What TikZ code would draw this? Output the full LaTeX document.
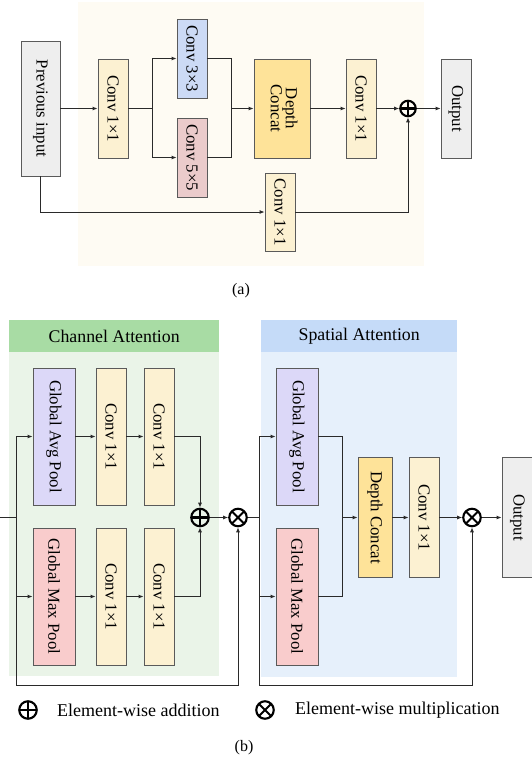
\documentclass[tikz,border=0pt]{standalone}
\usepackage{fontspec}
\setmainfont{Liberation Serif}
\usetikzlibrary{arrows.meta}

\definecolor{panelA}{HTML}{FEFBF3}
\definecolor{greyfill}{HTML}{EEEEEE}
\definecolor{convfill}{HTML}{FCF1D2}
\definecolor{bluefill}{HTML}{CCDAF5}
\definecolor{redfill}{HTML}{EBCBCB}
\definecolor{goldfill}{HTML}{FEE399}
\definecolor{avgfill}{HTML}{DCD8F8}
\definecolor{maxfill}{HTML}{F9CCCC}
\definecolor{cahead}{HTML}{A8DCA4}
\definecolor{cabody}{HTML}{EAF4E8}
\definecolor{sahead}{HTML}{C5DBF8}
\definecolor{sabody}{HTML}{E6F0FB}
\definecolor{boxline}{HTML}{5A5A5A}
\definecolor{wire}{HTML}{2A2A2A}

\newcommand{\vtext}[1]{\rotatebox[origin=c]{-90}{#1}}

\tikzset{
  box/.style={draw=boxline, line width=0.8pt, rectangle, inner sep=0pt,
    font=\fontsize{16.8}{18}\selectfont},
  flow/.style={draw=wire, line width=0.9pt, -{Latex[length=5pt,width=4pt]}},
  link/.style={draw=wire, line width=0.9pt},
  opsym/.style={circle, draw=black, line width=2.1pt, inner sep=0pt},
  oplus/.style={opsym, path picture={
      \draw[line width=2.1pt] (path picture bounding box.north) -- (path picture bounding box.south)
        (path picture bounding box.west) -- (path picture bounding box.east);}},
  otimes/.style={opsym, path picture={
      \draw[line width=2.1pt] (path picture bounding box.north west) -- (path picture bounding box.south east)
        (path picture bounding box.north east) -- (path picture bounding box.south west);}},
  header/.style={rectangle, inner sep=0pt, minimum width=#1, minimum height=32pt,
    font=\fontsize{17.8}{19}\selectfont},
  caption/.style={font=\fontsize{16}{18}\selectfont},
  legend/.style={anchor=west, inner sep=0pt, font=\fontsize{18}{20}\selectfont},
}

\begin{document}
\begin{tikzpicture}[x=1pt, y=-1pt]
\useasboundingbox (0,0) rectangle (532,760);

% ---------------- (a) multi-branch block ----------------
\fill[panelA] (78,2) rectangle (424,266);

\node[box, fill=greyfill, minimum width=39pt, minimum height=135pt] (prev) at (40.5,108.5) {\vtext{Previous input}};
\node[box, fill=convfill, minimum width=30pt, minimum height=99pt] (a1) at (113,108.5) {\vtext{Conv 1×1}};
\node[box, fill=bluefill, minimum width=30pt, minimum height=79pt] (a3) at (192,58.5) {\vtext{Conv 3×3}};
\node[box, fill=redfill, minimum width=30pt, minimum height=79pt] (a5) at (192,157.5) {\vtext{Conv 5×5}};
\node[box, fill=goldfill, minimum width=56pt, minimum height=99pt] (adc) at (282,108.5)
  {\vtext{\begin{tabular}{@{}c@{}}Depth\\[-3pt]Concat\end{tabular}}};
\node[box, fill=convfill, minimum width=30pt, minimum height=99pt] (a2) at (361,108.5) {\vtext{Conv 1×1}};
\node[oplus, minimum size=15.5pt] (aadd) at (408,108.5) {};
\node[box, fill=greyfill, minimum width=30pt, minimum height=99pt] (aout) at (456,108.5) {\vtext{Output}};
\node[box, fill=convfill, minimum width=30pt, minimum height=78pt] (askip) at (280,212) {\vtext{Conv 1×1}};

\coordinate (asplit) at (152,108.5);
\coordinate (amerge) at (231,108.5);

\draw[flow] (prev.east) -- (a1.west);
\draw[link] (a1.east) -- (asplit);
\draw[flow] (asplit) |- (a3.west);
\draw[flow] (asplit) |- (a5.west);
\draw[link] (a3.east) -| (amerge);
\draw[link] (a5.east) -| (amerge);
\draw[flow] (amerge) -- (adc.west);
\draw[flow] (adc.east) -- (a2.west);
\draw[flow] (a2.east) -- (aadd.west);
\draw[flow] (aadd.east) -- (aout.west);
\draw[flow] (prev.south) |- (askip.west);
\draw[flow] (askip.east) -| (aadd.south);

\node[caption] (capa) at (241,291) {(a)};

% ---------------- (b) channel + spatial attention ----------------
\fill[cabody] (9,352) rectangle (219,676);
\node[header=210pt, fill=cahead, anchor=north west] (cah) at (9,320) {Channel Attention};
\fill[sabody] (261,352) rectangle (457,677);
\node[header=196pt, fill=sahead, anchor=north west] (sah) at (261,320) {Spatial Attention};

% channel attention branches
\node[box, fill=avgfill, minimum width=42pt, minimum height=137pt] (cavg) at (54,436.5) {\vtext{Global Avg Pool}};
\node[box, fill=convfill, minimum width=30pt, minimum height=137pt] (cv1) at (111,436.5) {\vtext{Conv 1×1}};
\node[box, fill=convfill, minimum width=30pt, minimum height=137pt] (cv2) at (159,436.5) {\vtext{Conv 1×1}};
\node[box, fill=maxfill, minimum width=42pt, minimum height=137pt] (cmax) at (54,596.5) {\vtext{Global Max Pool}};
\node[box, fill=convfill, minimum width=30pt, minimum height=137pt] (cv3) at (111,596.5) {\vtext{Conv 1×1}};
\node[box, fill=convfill, minimum width=30pt, minimum height=137pt] (cv4) at (159,596.5) {\vtext{Conv 1×1}};
\node[oplus, minimum size=17.5pt] (cadd) at (200,517.5) {};
\node[otimes, minimum size=17.5pt] (cmul) at (238,517.5) {};

% spatial attention branches
\node[box, fill=avgfill, minimum width=42pt, minimum height=137pt] (savg) at (297,436.5) {\vtext{Global Avg Pool}};
\node[box, fill=maxfill, minimum width=42pt, minimum height=137pt] (smax) at (297,596.5) {\vtext{Global Max Pool}};
\node[box, fill=goldfill, minimum width=34pt, minimum height=120pt] (sdc) at (375,517.5) {\vtext{Depth Concat}};
\node[box, fill=convfill, minimum width=30pt, minimum height=120pt] (sconv) at (424,517.5) {\vtext{Conv 1×1}};
\node[otimes, minimum size=17.5pt] (smul) at (472,517.5) {};
\node[box, fill=greyfill, minimum width=31pt, minimum height=120pt] (sout) at (517.5,517.5) {\vtext{Output}};

\coordinate (bin) at (0,517.5);
\coordinate (bj1) at (16,517.5);
\coordinate (bl1) at (16,685);
\coordinate (bj2) at (259,517.5);
\coordinate (bl2) at (259,685);
\coordinate (bm2) at (342,517.5);

\draw[link] (bin) -- (bj1);
\draw[flow] (bj1) |- (cavg.west);
\draw[flow] (bj1) |- (cmax.west);
\draw[link] (bj1) -- (bl1);
\draw[flow] (bl1) -| (cmul.south);
\draw[flow] (cavg.east) -- (cv1.west);
\draw[flow] (cv1.east) -- (cv2.west);
\draw[flow] (cmax.east) -- (cv3.west);
\draw[flow] (cv3.east) -- (cv4.west);
\draw[flow] (cv2.east) -| (cadd.north);
\draw[flow] (cv4.east) -| (cadd.south);
\draw[flow] (cadd.east) -- (cmul.west);

\draw[link] (cmul.east) -- (bj2);
\draw[flow] (bj2) |- (savg.west);
\draw[flow] (bj2) |- (smax.west);
\draw[link] (bj2) -- (bl2);
\draw[flow] (bl2) -| (smul.south);
\draw[link] (savg.east) -| (bm2);
\draw[link] (smax.east) -| (bm2);
\draw[flow] (bm2) -- (sdc.west);
\draw[flow] (sdc.east) -- (sconv.west);
\draw[flow] (sconv.east) -- (smul.west);
\draw[flow] (smul.east) -- (sout.west);

% legend
\node[oplus, minimum size=17.5pt] (lgadd) at (28,710) {};
\node[legend] (lgaddtxt) at (57,710) {Element-wise addition};
\node[otimes, minimum size=17.5pt] (lgmul) at (265,710) {};
\node[legend] (lgmultxt) at (295,710) {Element-wise multiplication};

\node[caption] (capb) at (244,748) {(b)};
\end{tikzpicture}
\end{document}
